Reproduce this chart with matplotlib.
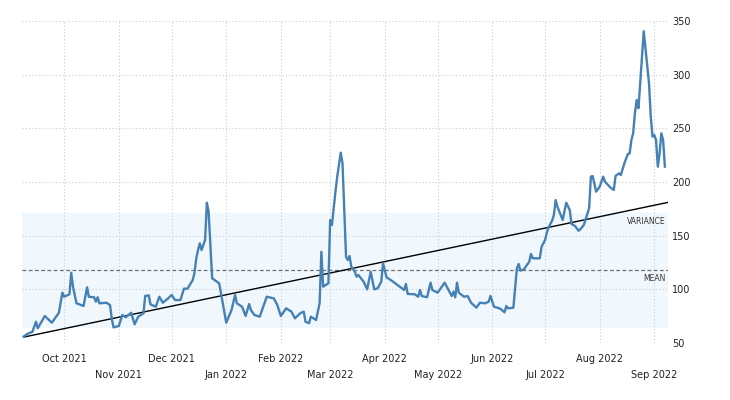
import pandas as pd
import matplotlib
matplotlib.use('Agg')
import matplotlib.pyplot as plt
import matplotlib.dates as mdates

# traced series
dates = [
    '2021-09-08', '2021-09-10', '2021-09-13', '2021-09-15', '2021-09-16', '2021-09-20',
    '2021-09-24', '2021-09-28', '2021-09-30', '2021-10-01', '2021-10-04', '2021-10-05',
    '2021-10-06', '2021-10-08', '2021-10-12', '2021-10-14', '2021-10-15', '2021-10-18',
    '2021-10-19', '2021-10-20', '2021-10-21', '2021-10-25', '2021-10-27', '2021-10-28',
    '2021-10-29', '2021-11-01', '2021-11-03', '2021-11-05', '2021-11-08', '2021-11-10',
    '2021-11-12', '2021-11-15', '2021-11-16', '2021-11-18', '2021-11-19', '2021-11-22',
    '2021-11-24', '2021-11-26', '2021-11-29', '2021-12-01', '2021-12-03', '2021-12-06',
    '2021-12-08', '2021-12-10', '2021-12-13', '2021-12-14', '2021-12-15', '2021-12-16',
    '2021-12-17', '2021-12-18', '2021-12-20', '2021-12-21', '2021-12-22', '2021-12-24',
    '2021-12-28', '2022-01-01', '2022-01-04', '2022-01-06', '2022-01-07', '2022-01-10',
    '2022-01-12', '2022-01-14', '2022-01-15', '2022-01-17', '2022-01-20', '2022-01-22',
    '2022-01-24', '2022-01-28', '2022-01-30', '2022-02-01', '2022-02-04', '2022-02-07',
    '2022-02-09', '2022-02-12', '2022-02-14', '2022-02-15', '2022-02-17', '2022-02-18',
    '2022-02-21', '2022-02-23', '2022-02-24', '2022-02-25', '2022-02-28', '2022-03-01',
    '2022-03-02', '2022-03-04', '2022-03-05', '2022-03-07', '2022-03-08', '2022-03-10',
    '2022-03-11', '2022-03-12', '2022-03-13', '2022-03-15', '2022-03-16', '2022-03-17',
    '2022-03-20', '2022-03-22', '2022-03-24', '2022-03-26', '2022-03-28', '2022-03-30',
    '2022-03-31', '2022-04-02', '2022-04-05', '2022-04-09', '2022-04-12', '2022-04-13',
    '2022-04-14', '2022-04-18', '2022-04-20', '2022-04-21', '2022-04-22', '2022-04-25',
    '2022-04-27', '2022-04-28', '2022-05-01', '2022-05-05', '2022-05-07', '2022-05-09',
    '2022-05-10', '2022-05-11', '2022-05-12', '2022-05-13', '2022-05-16', '2022-05-18',
    '2022-05-20', '2022-05-23', '2022-05-25', '2022-05-28', '2022-05-30', '2022-05-31',
    '2022-06-02', '2022-06-05', '2022-06-06', '2022-06-08', '2022-06-09', '2022-06-10',
    '2022-06-13', '2022-06-15', '2022-06-16', '2022-06-17', '2022-06-19', '2022-06-20',
    '2022-06-22', '2022-06-23', '2022-06-24', '2022-06-28', '2022-06-29', '2022-07-01',
    '2022-07-02', '2022-07-03', '2022-07-05', '2022-07-06', '2022-07-07', '2022-07-08',
    '2022-07-11', '2022-07-13', '2022-07-15', '2022-07-16', '2022-07-18', '2022-07-20',
    '2022-07-21', '2022-07-23', '2022-07-26', '2022-07-27', '2022-07-28', '2022-07-30',
    '2022-08-01', '2022-08-03', '2022-08-04', '2022-08-07', '2022-08-09', '2022-08-10',
    '2022-08-12', '2022-08-13', '2022-08-15', '2022-08-17', '2022-08-18', '2022-08-19',
    '2022-08-20', '2022-08-21', '2022-08-22', '2022-08-23', '2022-08-24', '2022-08-26',
    '2022-08-29', '2022-08-30', '2022-08-31', '2022-09-01', '2022-09-02', '2022-09-03',
    '2022-09-04', '2022-09-05', '2022-09-06', '2022-09-07',
]
values = [
    56.0, 58.4, 60.5, 69.8, 63.7, 75.2,
    68.9, 78.2, 96.9, 93.1, 95.4, 115.5,
    102.5, 87.0, 84.5, 101.9, 93.1, 92.6,
    88.5, 92.6, 87.0, 87.5, 85.4, 73.0,
    64.6, 65.8, 76.1, 74.0, 78.2, 67.4,
    74.5, 77.7, 93.8, 94.4, 86.0, 83.8,
    93.1, 87.5, 91.6, 94.7, 90.0, 90.0,
    100.6, 100.6, 108.7, 115.5, 128.9, 136.6,
    142.9, 136.6, 146.0, 180.7, 172.3, 110.3,
    105.6, 68.9, 80.7, 94.7, 87.0, 83.8,
    75.2, 86.3, 80.7, 76.1, 74.5, 83.8,
    93.1, 91.6, 85.4, 75.2, 82.3, 79.2,
    73.0, 77.7, 79.2, 69.8, 68.4, 74.5,
    71.4, 87.0, 135.0, 102.5, 105.6, 164.6,
    160.0, 191.0, 205.0, 227.3, 217.4, 130.4,
    127.3, 131.0, 121.1, 116.4, 111.8, 113.4,
    107.1, 100.0, 116.4, 100.0, 101.0, 107.1,
    124.3, 111.2, 108.0, 103.1, 99.4, 105.0,
    95.7, 95.4, 93.1, 99.4, 93.8, 92.6,
    106.2, 99.4, 96.9, 106.2, 100.0, 93.8,
    97.8, 92.6, 106.2, 96.9, 93.1, 93.8,
    87.5, 82.9, 87.5, 87.0, 88.5, 93.8,
    83.8, 82.3, 81.4, 78.6, 84.5, 82.3,
    82.9, 119.6, 123.6, 117.4, 118.7, 121.1,
    125.7, 132.9, 128.9, 128.9, 139.7, 146.0,
    152.8, 157.8, 164.0, 169.3, 183.2, 177.0,
    164.6, 180.7, 173.9, 160.9, 159.0, 154.6,
    155.9, 160.0, 175.5, 205.0, 205.6, 191.0,
    195.6, 205.0, 200.3, 195.0, 192.6, 205.6,
    208.1, 206.5, 217.4, 226.1, 226.7, 239.1,
    245.4, 264.0, 276.4, 268.7, 292.0, 340.5,
    292.0, 260.8, 242.2, 243.8, 239.1, 214.3,
    226.7, 245.4, 239.1, 214.3,
]

mean_value = 118
variance_band = [65, 171.5]
trend_ends = [55.5, 181]
trend_dates = ['2021-09-08 00:00', '2022-09-08 18:00']
x_range = ['2021-09-07 00:00', '2022-09-08 18:00']
y_ticks = [50, 100, 150, 200, 250, 300, 350]

dates = pd.to_datetime(dates)
x_range = pd.to_datetime(x_range, format='%Y-%m-%d %H:%M')
trend_dates = pd.to_datetime(trend_dates, format='%Y-%m-%d %H:%M')

fig = plt.figure(figsize=(7.3, 4), dpi=100)
ax = fig.add_axes([0.030, 0.1425, 0.885, 0.805])

ax.axhspan(variance_band[0], variance_band[1], color='#f1f8fd', zorder=0)
ax.axhline(mean_value, color='#707070', lw=0.9, ls=(0, (3, 2)), zorder=2)
ax.plot(dates, values, color='#4581b4', lw=1.7, zorder=4, solid_joinstyle='round')
ax.plot(trend_dates, trend_ends, color='black', lw=1.0, zorder=3)

ax.text(x_range[1] - pd.Timedelta(days=1.5), 163, 'VARIANCE', fontsize=5.5,
        ha='right', va='center', color='#333333')
ax.text(x_range[1] - pd.Timedelta(days=1.5), 110, 'MEAN', fontsize=5.5,
        ha='right', va='center', color='#333333')

ax.set_xlim(x_range[0], x_range[1])
ax.set_ylim(50, 350)
ax.set_yticks(y_ticks)
ax.yaxis.tick_right()

months = pd.date_range('2021-10-01', '2022-09-01', freq='MS')
ax.set_xticks(months)
labels = []
for i, m in enumerate(months):
    s = m.strftime('%b %Y')
    labels.append(s if i % 2 == 0 else '\n' + s)
ax.set_xticklabels(labels, linespacing=1.7)

ax.grid(True, color='#cccccc', ls=(0, (1, 2)), lw=0.8)
ax.set_axisbelow(True)
for sp in ax.spines.values():
    sp.set_visible(False)
ax.tick_params(axis='both', length=0, labelsize=7, colors='#222222')
ax.tick_params(axis='x', pad=8)
ax.tick_params(axis='y', pad=3)

fig.savefig('out.png', dpi=100)
